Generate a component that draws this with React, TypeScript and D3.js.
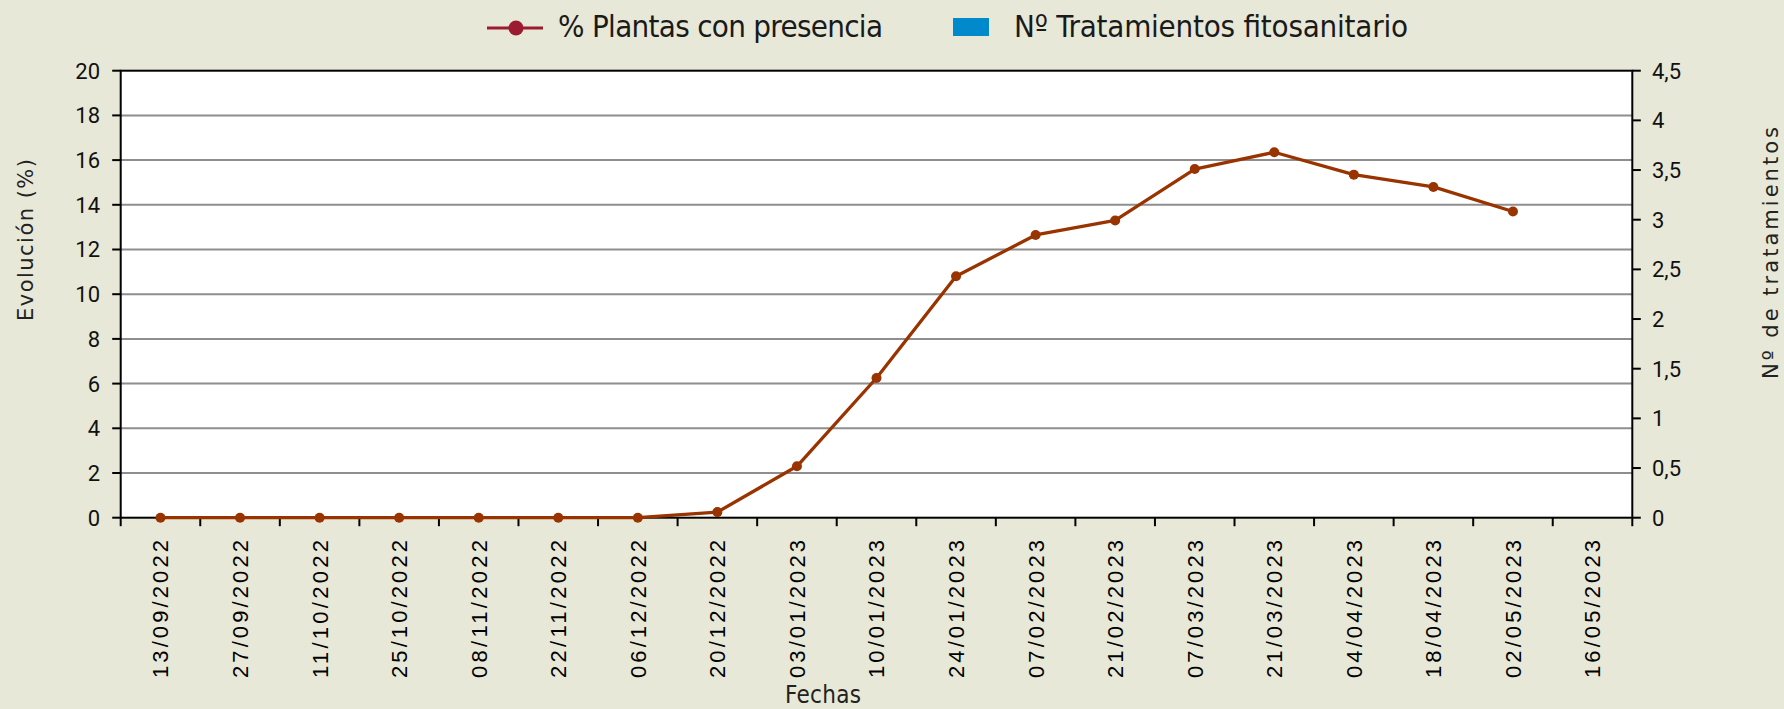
import React from "react";
import * as d3 from "d3";

const fechas = [
  "13/09/2022", "27/09/2022", "11/10/2022", "25/10/2022", "08/11/2022",
  "22/11/2022", "06/12/2022", "20/12/2022", "03/01/2023", "10/01/2023",
  "24/01/2023", "07/02/2023", "21/02/2023", "07/03/2023", "21/03/2023",
  "04/04/2023", "18/04/2023", "02/05/2023", "16/05/2023",
];
const plantasPresencia: (number | null)[] = [
  0, 0, 0, 0, 0, 0, 0, 0.25, 2.3, 6.25, 10.8, 12.65, 13.3, 15.6, 16.35, 15.35, 14.8, 13.7, null,
];
const tratamientos = [0, 0, 0, 0, 0, 0, 0, 0, 0, 0, 0, 0, 0, 0, 0, 0, 0, 0, 0];
const leftTicks = [0, 2, 4, 6, 8, 10, 12, 14, 16, 18, 20];
const rightTicks = [0, 0.5, 1, 1.5, 2, 2.5, 3, 3.5, 4, 4.5];

const W = 1784;
const H = 709;
const L = 120.7;
const R = 1632.3;
const T = 70.7;
const B = 517.7;

export default function App() {
  const x = d3.scaleBand<string>().domain(fechas).range([L, R]).padding(0);
  const yL = d3.scaleLinear().domain([0, 20]).range([B, T]);
  const yR = d3.scaleLinear().domain([0, 4.5]).range([B, T]);
  const cx = (d: string) => (x(d) ?? 0) + x.bandwidth() / 2;

  const pts = fechas
    .map((f, i) => ({ f, v: plantasPresencia[i] }))
    .filter((p) => p.v !== null) as { f: string; v: number }[];
  const line = d3
    .line<{ f: string; v: number }>()
    .x((d) => cx(d.f))
    .y((d) => yL(d.v));

  const boundaries = [...fechas.map((f) => x(f) ?? 0), R];
  const fmtR = (v: number) => String(v).replace(".", ",");
  const lineColor = "#993300";

  return (
    <svg
      width={W}
      height={H}
      style={{ position: "absolute", left: 0, top: 0 }}
      xmlns="http://www.w3.org/2000/svg"
    >
      <rect x={0} y={0} width={W} height={H} fill="#E7E8D7" />
      <rect x={L} y={T} width={R - L} height={B - T} fill="#FFFFFF" />

      {/* gridlines */}
      {leftTicks.slice(1, -1).map((t) => (
        <line key={"g" + t} x1={L} x2={R} y1={yL(t)} y2={yL(t)} stroke="#8E8E8E" strokeWidth={2} />
      ))}

      {/* bars (treatments) */}
      {tratamientos.map((v, i) =>
        v > 0 ? (
          <rect
            key={"b" + i}
            x={(x(fechas[i]) ?? 0) + x.bandwidth() * 0.2}
            width={x.bandwidth() * 0.6}
            y={yR(v)}
            height={B - yR(v)}
            fill="#008ACB"
          />
        ) : null
      )}

      {/* frame */}
      <rect x={L} y={T} width={R - L} height={B - T} fill="none" stroke="#000" strokeWidth={2} />

      {/* left ticks */}
      {leftTicks.map((t) => (
        <g key={"lt" + t}>
          <line x1={L - 8.5} x2={L} y1={yL(t)} y2={yL(t)} stroke="#000" strokeWidth={2} />
          <text
            x={100}
            y={yL(t)}
            dy="0.36em"
            textAnchor="end"
            fontFamily="Roboto, 'Liberation Sans', sans-serif"
            fontSize={22}
            fill="#111"
          >
            {t}
          </text>
        </g>
      ))}

      {/* right ticks */}
      {rightTicks.map((t) => (
        <g key={"rt" + t}>
          <line x1={R} x2={R + 8.5} y1={yR(t)} y2={yR(t)} stroke="#000" strokeWidth={2} />
          <text
            x={1652}
            y={yR(t)}
            dy="0.36em"
            textAnchor="start"
            fontFamily="Roboto, 'Liberation Sans', sans-serif"
            fontSize={22}
            fill="#111"
          >
            {fmtR(t)}
          </text>
        </g>
      ))}

      {/* x ticks */}
      {boundaries.map((bx, i) => (
        <line key={"xt" + i} x1={bx} x2={bx} y1={B} y2={B + 8.5} stroke="#000" strokeWidth={2} />
      ))}

      {/* x labels */}
      {fechas.map((f) => (
        <text
          key={"xl" + f}
          transform={`translate(${cx(f)},540) rotate(-90)`}
          dy="0.36em"
          textAnchor="end"
          fontFamily="'Liberation Sans', Arial, sans-serif"
          fontSize={22}
          textLength={138}
          lengthAdjust="spacing"
          fill="#000"
        >
          {f}
        </text>
      ))}

      {/* line series */}
      <path d={line(pts) ?? ""} fill="none" stroke={lineColor} strokeWidth={3.3} strokeLinejoin="round" />
      {pts.map((p) => (
        <circle key={"p" + p.f} cx={cx(p.f)} cy={yL(p.v)} r={5} fill={lineColor} />
      ))}

      {/* axis titles */}
      <text
        transform="translate(25,240) rotate(-90)"
        dy="0.36em"
        textAnchor="middle"
        fontFamily="'DejaVu Sans', Verdana, sans-serif"
        fontSize={21}
        textLength={162}
        lengthAdjust="spacing"
        fill="#222"
      >
        Evolución (%)
      </text>
      <text
        transform="translate(1770,253) rotate(-90)"
        dy="0.36em"
        textAnchor="middle"
        fontFamily="'DejaVu Sans', Verdana, sans-serif"
        fontSize={21}
        textLength={252}
        lengthAdjust="spacing"
        fill="#222"
      >
        Nº de tratamientos
      </text>
      <text
        x={823}
        y={703}
        textAnchor="middle"
        fontFamily="'Liberation Sans Narrow', 'DejaVu Sans Condensed', sans-serif"
        fontSize={24}
        textLength={76}
        lengthAdjust="spacing"
        fill="#222"
      >
        Fechas
      </text>

      {/* legend */}
      <line x1={487} x2={543} y1={28} y2={28} stroke="#9B1B30" strokeWidth={3} />
      <circle cx={516} cy={28} r={7.5} fill="#9B1B30" />
      <text
        x={558}
        y={37}
        fontFamily="'Liberation Sans Narrow', 'DejaVu Sans Condensed', sans-serif"
        fontSize={31}
        textLength={325}
        lengthAdjust="spacing"
        fill="#1a1a1a"
      >
        % Plantas con presencia
      </text>
      <rect x={953} y={18} width={36} height={18} fill="#008ACB" />
      <text
        x={1014}
        y={37}
        fontFamily="'Liberation Sans Narrow', 'DejaVu Sans Condensed', sans-serif"
        fontSize={31}
        textLength={394}
        lengthAdjust="spacing"
        fill="#1a1a1a"
      >
        Nº Tratamientos fitosanitario
      </text>
    </svg>
  );
}
